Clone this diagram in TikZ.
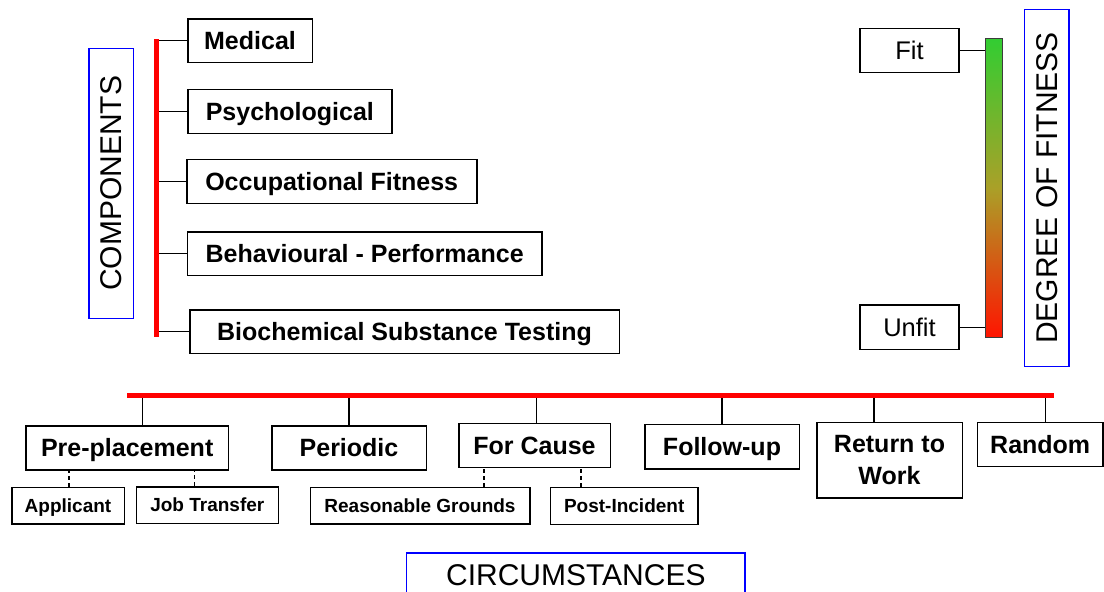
\documentclass[tikz,border=0pt]{standalone}
\usepackage{fontspec}
\setmainfont{Liberation Sans}
\definecolor{myred}{RGB}{255,0,0}
\definecolor{myblue}{RGB}{0,0,255}
\definecolor{gtop}{RGB}{50,205,50}
\definecolor{gmid}{RGB}{170,160,40}
\definecolor{gbot}{RGB}{255,20,0}
\definecolor{gborder}{RGB}{60,60,60}
\begin{document}
\begin{tikzpicture}[x=1pt,y=-1pt,
  bx/.style={draw=black,line width=1.6pt,rectangle,inner sep=0pt,
    font=\fontsize{25}{32}\selectfont\bfseries},
  box/.style={bx,text height=17.9pt,text depth=0pt},
  sbox/.style={draw=black,line width=1.6pt,rectangle,inner sep=0pt,
    font=\fontsize{19}{22}\selectfont\bfseries,text height=13.6pt,text depth=0pt},
  lbox/.style={draw=black,line width=1.4pt,rectangle,inner sep=0pt,
    font=\fontsize{25.5}{30}\selectfont,text height=18.3pt,text depth=0pt},
  bluebox/.style={draw=myblue,line width=1.3pt,rectangle,inner sep=0pt,
    font=\fontsize{30}{34}\selectfont,text height=21.5pt,text depth=0pt},
  conn/.style={line width=1.4pt,draw=black},
  dconn/.style={line width=1.5pt,draw=black,dash pattern=on 4pt off 3pt},
  redline/.style={line width=5pt,draw=myred}
]
\useasboundingbox (0,0) rectangle (1104,592);

% ---------- COMPONENTS ----------
\node[bluebox,rotate=90,minimum width=270,minimum height=44.3] (comp) at (111.2,183.3) {COMPONENTS};

\coordinate (barT) at (156,39);
\coordinate (barB) at (156,337);

\node[box,minimum width=124.6,minimum height=43.6] (med) at (250,40.5) {Medical};
\node[box,minimum width=203.7,minimum height=44] (psy) at (289.85,111.3) {Psychological};
\node[box,minimum width=290,minimum height=44] (occ) at (331.7,181.3) {Occupational Fitness};
\node[box,minimum width=354.7,minimum height=43.6] (beh) at (364.65,253.5) {Behavioural - Performance};
\node[box,minimum width=429.6,minimum height=43.3] (bio) at (404.5,331.7) {Biochemical Substance Testing};

\foreach \n in {med,psy,occ,beh,bio}
  \draw[conn] (\n.west) -- (\n.west -| barT);
\draw[redline] (barT) -- (barB);

% ---------- DEGREE OF FITNESS ----------
\node[lbox,minimum width=99,minimum height=44.4] (fit) at (909.5,50.5) {Fit};
\node[lbox,minimum width=99,minimum height=44.3] (unfit) at (909.5,327.2) {Unfit};
\node[draw=gborder,line width=1.2pt,rectangle,inner sep=0pt,minimum width=17,minimum height=299.4,
  top color=gtop,bottom color=gbot,middle color=gmid] (grad) at (994.2,188) {};
\draw[conn] (fit.east) -- (fit.east -| grad.west);
\draw[conn] (unfit.east) -- (unfit.east -| grad.west);
\node[bluebox,rotate=90,minimum width=357.4,minimum height=44.7] (deg) at (1046.7,188) {DEGREE OF FITNESS};

% ---------- CIRCUMSTANCES ----------
\coordinate (hL) at (127,395.5);
\coordinate (hR) at (1054,395.5);

\node[box,minimum width=202.3,minimum height=44] (pre) at (127.2,448) {Pre-placement};
\node[box,minimum width=154.6,minimum height=44] (per) at (349,448) {Periodic};
\node[box,minimum width=151.6,minimum height=44] (cau) at (534.5,445.3) {For Cause};
\node[box,minimum width=154.6,minimum height=44.7] (fol) at (722,446.7) {Follow-up};
\node[bx,align=center,minimum width=145.6,minimum height=75.4] (ret) at (889.5,460) {Return to\\Work};
\node[box,minimum width=125.7,minimum height=44] (ran) at (1040.2,444.3) {Random};

\coordinate (preTop) at ([xshift=15.1pt]pre.north);
\coordinate (cauTop) at ([xshift=2.2pt]cau.north);
\coordinate (retTop) at ([xshift=-15.5pt]ret.north);
\coordinate (ranTop) at ([xshift=5.5pt]ran.north);
\draw[conn] (preTop) -- (preTop |- hL);
\draw[conn] (per.north) -- (per.north |- hL);
\draw[conn] (cauTop) -- (cauTop |- hL);
\draw[conn] (fol.north) -- (fol.north |- hL);
\draw[conn] (retTop) -- (retTop |- hL);
\draw[conn] (ranTop) -- (ranTop |- hL);
\draw[redline] (hL) -- (hR);

\node[sbox,minimum width=112.6,minimum height=36.7] (app) at (68,505.7) {Applicant};
\node[sbox,minimum width=142,minimum height=36.6] (job) at (207.3,505) {Job Transfer};
\node[sbox,minimum width=219.4,minimum height=36.7] (rea) at (420,505.7) {Reasonable Grounds};
\node[sbox,minimum width=147.7,minimum height=37] (pin) at (624.2,505.8) {Post-Incident};

\coordinate (appTop) at ([xshift=1pt]app.north);
\coordinate (jobTop) at ([xshift=-13pt]job.north);
\coordinate (reaTop) at ([xshift=64pt]rea.north);
\coordinate (pinTop) at ([xshift=-43.2pt]pin.north);
\draw[dconn] (appTop) -- (appTop |- pre.south);
\draw[dconn] (jobTop) -- (jobTop |- pre.south);
\draw[dconn] (reaTop) -- (reaTop |- cau.south);
\draw[dconn] (pinTop) -- (pinTop |- cau.south);

\node[bluebox,anchor=north,minimum width=338.3,minimum height=44] (circ) at (575.85,552.3) {CIRCUMSTANCES};
\end{tikzpicture}
\end{document}
